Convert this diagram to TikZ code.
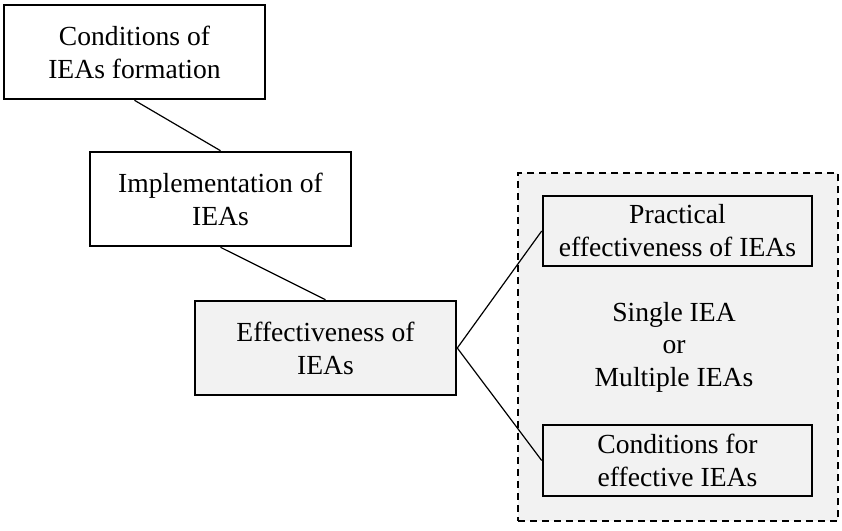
\documentclass[tikz,border=0pt]{standalone}
\usepackage{fontspec}
\setmainfont{Liberation Serif}
\definecolor{panelgray}{RGB}{242,242,242}
\begin{document}
\begin{tikzpicture}[x=1pt,y=-1pt,
  font=\fontsize{27.6}{33}\selectfont,
  stagebox/.style={draw=black, line width=2.6pt, inner sep=0pt, align=center,
    minimum width=261pt, minimum height=94pt},
  subbox/.style={draw=black, line width=2.6pt, fill=panelgray, inner sep=0pt,
    align=center, minimum width=269pt},
  link/.style={draw=black, line width=1.2pt}]
\useasboundingbox (0,0) rectangle (842,530);

% dashed panel holding the two aspects of effectiveness
\node[draw=black, line width=2.4pt, dash pattern=on 7pt off 5pt, fill=panelgray,
  minimum width=320pt, minimum height=348pt, inner sep=0pt] (panel) at (678,347) {};

% chain of stages
\node[stagebox] (formation) at (134.5,52) {Conditions of\\IEAs formation};
\node[stagebox] (implement) at (220.5,199) {Implementation of\\IEAs};
\node[stagebox, fill=panelgray] (effect) at (325.5,348) {Effectiveness of\\IEAs};

% contents of the panel
\node[subbox, minimum height=70pt] (practical) at (677.5,231) {Practical\\effectiveness of IEAs};
\node[subbox, minimum height=71pt] (conditions) at (677.5,460.5) {Conditions for\\effective IEAs};
\node[align=center, inner sep=0pt, font=\fontsize{27.6}{32.5}\selectfont] (scope) at (674,347)
  {Single IEA\\or\\Multiple IEAs};

% connectors
\draw[link] (formation.south) -- (implement.north);
\draw[link] (implement.south) -- (effect.north);
\draw[link] (effect.east) -- (practical.west);
\draw[link] (effect.east) -- (conditions.west);
\end{tikzpicture}
\end{document}
